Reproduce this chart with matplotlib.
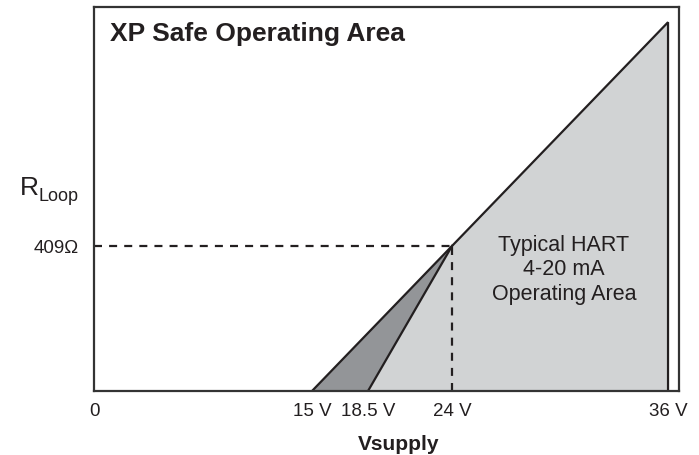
import matplotlib.pyplot as plt
import numpy as np

plt.rcParams['font.family'] = ['Liberation Sans', 'DejaVu Sans']

# supply voltages (V) and loop resistances (ohm)
V_MIN_XP = 15.0
V_MIN_HART = 18.5
V_KNEE = 24.0
V_MAX = 36.0
R_KNEE = 409
R_MAX = 1040

tick_volts = [0, 15, 18.5, 24, 36]
tick_labels = ['0', '15 V', '18.5 V', '24 V', '36 V']

# the voltage axis is drawn schematically, not to a linear scale
axis_volts = [0, 15, 18.5, 24, 36, 40]
axis_pos = [0, 218, 274, 358, 574, 646]


def fwd(v):
    return np.interp(v, axis_volts, axis_pos)


def inv(p):
    return np.interp(p, axis_pos, axis_volts)


LIGHT = '#d1d3d4'
DARK = '#939598'
INK = '#231f20'

fig = plt.figure(figsize=(6.99, 4.56), dpi=100)
ax = fig.add_axes([0.1345, 0.1404, 0.8369, 0.8421])
ax.set_xscale('function', functions=(fwd, inv))
ax.set_xlim(0, 36.61)
ax.set_ylim(0, 1083)

# typical HART operating area
ax.fill([V_MIN_HART, V_KNEE, V_MAX, V_MAX], [0, R_KNEE, R_MAX, 0],
        color=LIGHT, lw=0, zorder=1)
# extra area gained by the XP option
ax.fill([V_MIN_XP, V_MIN_HART, V_KNEE], [0, 0, R_KNEE],
        color=DARK, lw=0, zorder=1)

ax.plot([V_MIN_XP, V_KNEE, V_MAX, V_MAX], [0, R_KNEE, R_MAX, 0],
        color=INK, lw=1.6, solid_joinstyle='miter', zorder=3)
ax.plot([V_MIN_HART, V_KNEE], [0, R_KNEE], color=INK, lw=1.6, zorder=3)

ax.plot([0, V_KNEE], [R_KNEE, R_KNEE], color=INK, lw=1.6,
        dashes=[3.6, 3.2], zorder=2)
ax.plot([V_KNEE, V_KNEE], [0, R_KNEE], color=INK, lw=1.6,
        dashes=[3.6, 3.2], zorder=2)

for s in ax.spines.values():
    s.set_color('#333333')
    s.set_linewidth(1.6)
    s.set_zorder(4)

ax.set_xticks(tick_volts, tick_labels)
ax.set_yticks([R_KNEE], ['409Ω'])
ax.xaxis.set_minor_locator(plt.NullLocator())
ax.tick_params(axis='x', length=0, pad=8, labelsize=13.5, labelcolor=INK)
ax.tick_params(axis='y', length=0, pad=11, labelsize=13.5, labelcolor=INK)
ax.set_xlabel('Vsupply', fontsize=15, fontweight='bold', color=INK)
ax.xaxis.set_label_coords(0.52, -0.113)

ax.text(0.027, 0.915, 'XP Safe Operating Area', transform=ax.transAxes,
        fontsize=19, fontweight='bold', color=INK, va='baseline')

fig.text(564 / 699, 1 - 270 / 456, 'Typical HART\n4-20 mA\nOperating Area',
         fontsize=15.5, color=INK, ha='center', va='center',
         linespacing=1.2)

fig.text(20 / 699, 1 - 195 / 456, 'R', fontsize=19, color=INK,
         va='baseline')
fig.text(38 / 699, 1 - 201 / 456, 'Loop', fontsize=13, color=INK,
         va='baseline')

fig.savefig('out.png', dpi=100)
